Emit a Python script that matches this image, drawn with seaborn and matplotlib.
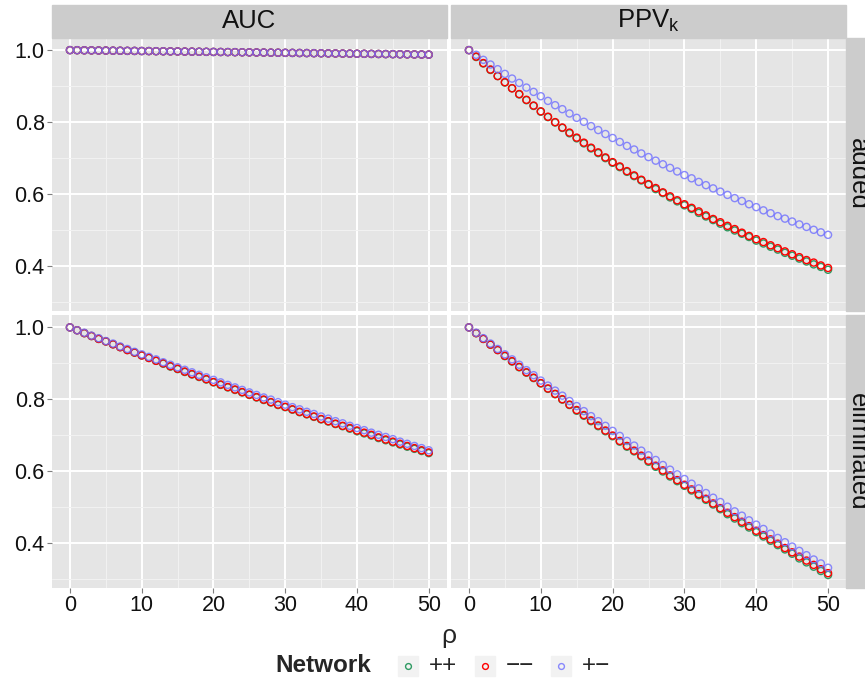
import numpy as np
import pandas as pd
import matplotlib
matplotlib.use("Agg")
import matplotlib.pyplot as plt
from matplotlib.patches import Rectangle
from matplotlib.lines import Line2D
import seaborn as sns

# ---- data -------------------------------------------------------------
rho = list(range(51))

networks = ["++", "\u2212\u2212", "+\u2212"]
metrics = ["AUC", "PPV"]
changes = ["added", "eliminated"]

auc_added_pp = [1.0000, .9998, .9995, .9993, .9990, .9988, .9985, .9983, .9980, .9978,
                .9975, .9973, .9970, .9968, .9965, .9963, .9960, .9958, .9955, .9953,
                .9950, .9948, .9945, .9943, .9940, .9938, .9935, .9933, .9930, .9928,
                .9925, .9923, .9920, .9918, .9915, .9913, .9910, .9908, .9905, .9903,
                .9900, .9898, .9895, .9893, .9890, .9888, .9885, .9883, .9880, .9878, .9875]
auc_added_mm = list(auc_added_pp)
auc_added_pm = list(auc_added_pp)

ppv_added_pp = [1.000, .981, .963, .945, .928, .910, .894, .877, .861, .845,
                .829, .814, .799, .784, .769, .755, .741, .727, .714, .700,
                .687, .675, .662, .650, .638, .626, .614, .603, .591, .580,
                .569, .559, .548, .538, .528, .518, .508, .499, .490, .481,
                .471, .463, .454, .446, .437, .429, .421, .413, .405, .398, .390]
ppv_added_mm = [1.000, .982, .964, .946, .928, .911, .894, .878, .862, .846,
                .830, .815, .800, .785, .771, .757, .743, .729, .716, .702,
                .689, .677, .664, .652, .640, .628, .617, .605, .594, .583,
                .572, .562, .552, .541, .531, .522, .512, .503, .493, .484,
                .475, .467, .458, .450, .441, .433, .425, .417, .410, .402, .395]
ppv_added_pm = [1.000, .987, .973, .960, .947, .934, .921, .909, .896, .884,
                .872, .859, .847, .836, .824, .812, .801, .789, .778, .767,
                .756, .745, .734, .724, .713, .703, .693, .683, .673, .663,
                .653, .644, .634, .625, .616, .607, .598, .589, .581, .572,
                .564, .555, .547, .539, .532, .524, .516, .509, .501, .494, .487]

auc_elim_pp = [1.000, .992, .984, .976, .968, .961, .953, .945, .937, .930,
               .922, .915, .907, .899, .891, .884, .876, .869, .862, .855,
               .847, .840, .833, .826, .819, .812, .805, .798, .791, .784,
               .778, .771, .764, .758, .751, .744, .738, .731, .725, .718,
               .711, .705, .699, .692, .686, .680, .674, .668, .662, .656, .650]
auc_elim_mm = [1.000, .992, .984, .976, .968, .961, .953, .945, .937, .930,
               .922, .915, .907, .900, .892, .885, .877, .870, .863, .856,
               .848, .841, .834, .827, .820, .813, .806, .799, .792, .785,
               .779, .772, .765, .759, .752, .745, .739, .732, .726, .720,
               .713, .707, .701, .694, .688, .682, .676, .670, .664, .658, .652]
auc_elim_pm = [1.000, .992, .985, .977, .970, .962, .955, .947, .940, .932,
               .925, .918, .911, .903, .896, .889, .882, .875, .868, .861,
               .854, .847, .840, .833, .826, .819, .812, .805, .799, .792,
               .785, .778, .772, .765, .759, .752, .746, .739, .733, .726,
               .720, .714, .707, .701, .695, .689, .682, .676, .670, .664, .658]

ppv_elim_pp = [1.000, .984, .968, .952, .937, .920, .905, .889, .874, .859,
               .844, .829, .814, .799, .784, .768, .754, .739, .725, .711,
               .697, .682, .668, .655, .641, .626, .612, .599, .585, .572,
               .559, .546, .533, .520, .507, .494, .480, .468, .455, .443,
               .430, .418, .406, .394, .382, .370, .357, .346, .334, .322, .311]
ppv_elim_mm = [1.000, .984, .968, .952, .937, .921, .906, .890, .875, .860,
               .845, .830, .815, .800, .785, .770, .756, .741, .727, .713,
               .699, .684, .670, .657, .643, .629, .615, .602, .588, .575,
               .562, .549, .536, .523, .510, .497, .484, .472, .459, .447,
               .434, .422, .410, .398, .386, .374, .362, .351, .339, .327, .316]
ppv_elim_pm = [1.000, .985, .970, .955, .940, .925, .911, .896, .881, .867,
               .852, .838, .824, .810, .795, .781, .767, .753, .739, .726,
               .712, .698, .684, .671, .657, .644, .631, .617, .604, .591,
               .578, .565, .552, .539, .526, .514, .501, .488, .476, .463,
               .451, .439, .426, .414, .402, .390, .378, .366, .354, .343, .331]

series = {
    ("added", "AUC"): [auc_added_pp, auc_added_mm, auc_added_pm],
    ("added", "PPV"): [ppv_added_pp, ppv_added_mm, ppv_added_pm],
    ("eliminated", "AUC"): [auc_elim_pp, auc_elim_mm, auc_elim_pm],
    ("eliminated", "PPV"): [ppv_elim_pp, ppv_elim_mm, ppv_elim_pm],
}

rows = []
for (chg, met), vals in series.items():
    for net, v in zip(networks, vals):
        for r, y in zip(rho, v):
            rows.append({"change": chg, "metric": met, "network": net, "rho": r, "value": y})
df = pd.DataFrame(rows)

# ---- style ------------------------------------------------------------
sns.set_theme(style="white")
plt.rcParams["font.family"] = ["Liberation Sans", "DejaVu Sans"]
plt.rcParams["mathtext.fontset"] = "custom"
plt.rcParams["mathtext.rm"] = "Liberation Sans"
plt.rcParams["mathtext.it"] = "Liberation Sans"

colors = {"++": "#2E9A62", "\u2212\u2212": "#FF0000", "+\u2212": "#6E6EFF"}
alphas = {"++": 1.0, "\u2212\u2212": 1.0, "+\u2212": 0.8}

W, H = 865, 682
fig = plt.figure(figsize=(W / 100, H / 100), dpi=100)


def fx(px):
    return px / W


def fy(py):
    return 1 - py / H


col_x = [(52, 446.7), (451, 846)]
row_y = [(37.7, 311), (315, 587.7)]
strip_top = (5, 37.7)
strip_right = (846, 879)

xlim = (-2.5, 52.5)
ylim = (0.2755, 1.0345)

for i, chg in enumerate(changes):
    for j, met in enumerate(metrics):
        x0, x1 = col_x[j]
        y0, y1 = row_y[i]
        ax = fig.add_axes([fx(x0), fy(y1), fx(x1 - x0), (y1 - y0) / H])
        ax.set_facecolor("#E5E5E5")
        for s in ax.spines.values():
            s.set_visible(False)
        ax.set_xlim(*xlim)
        ax.set_ylim(*ylim)
        ax.set_xticks([0, 10, 20, 30, 40, 50])
        ax.set_xticks([5, 15, 25, 35, 45], minor=True)
        ax.set_yticks([0.4, 0.6, 0.8, 1.0])
        ax.set_yticks([0.3, 0.5, 0.7, 0.9], minor=True)
        ax.grid(which="major", color="white", linewidth=1.4)
        ax.grid(which="minor", color="#F2F2F2", linewidth=0.7)
        ax.set_axisbelow(True)
        ax.tick_params(which="major", length=3.8, width=0.8, color="#7F7F7F",
                       labelsize=15.5, labelcolor="#111111", pad=1.5,
                       left=(j == 0), bottom=(i == 1),
                       labelleft=(j == 0), labelbottom=(i == 1))
        ax.tick_params(which="minor", length=0)
        ax.set_yticklabels(["0.4", "0.6", "0.8", "1.0"])

        sub = df[(df["change"] == chg) & (df["metric"] == met)]
        for net in networks:
            d = sub[sub["network"] == net]
            sns.scatterplot(data=d, x="rho", y="value", ax=ax, marker="o",
                            s=26, facecolors="none", edgecolor=colors[net],
                            color=colors[net], linewidth=1.0, alpha=alphas[net],
                            legend=False, zorder=3)
        ax.set_xlabel("")
        ax.set_ylabel("")

# facet strips
strip_col = "#CCCCCC"
for j, met in enumerate(metrics):
    x0, x1 = col_x[j]
    fig.patches.append(Rectangle((fx(x0), fy(strip_top[1])), fx(x1 - x0),
                                 (strip_top[1] - strip_top[0]) / H,
                                 transform=fig.transFigure, color=strip_col, zorder=0))
    label = "AUC" if met == "AUC" else r"PPV$_\mathregular{k}$"
    fig.text(fx((x0 + x1) / 2), fy((strip_top[0] + strip_top[1]) / 2), label,
             ha="center", va="center", fontsize=18.5, color="#111111")

for i, chg in enumerate(changes):
    y0, y1 = row_y[i]
    fig.patches.append(Rectangle((fx(strip_right[0]), fy(y1)),
                                 fx(strip_right[1] - strip_right[0]),
                                 (y1 - y0) / H,
                                 transform=fig.transFigure, color=strip_col, zorder=0))
    fig.text(fx(851), fy((y0 + y1) / 2), chg, rotation=-90, rotation_mode="anchor",
             ha="center", va="baseline", fontsize=18.5, color="#111111")

# axis title
fig.text(fx(449), fy(636), "\u03c1", ha="center", va="center", fontsize=19)

# legend
fig.text(fx(275), fy(666), "Network", ha="left", va="center",
         fontsize=17.5, fontweight="bold")
key_x = [398, 475, 551]
for net, kx in zip(networks, key_x):
    fig.patches.append(Rectangle((fx(kx), fy(676)), fx(20), 20 / H,
                                 transform=fig.transFigure, color="#F2F2F2", zorder=0))
    fig.lines.append(Line2D([fx(kx + 10)], [fy(666)], transform=fig.transFigure,
                            marker="o", markersize=4.2, markerfacecolor="none",
                            markeredgecolor=colors[net], markeredgewidth=1.0,
                            alpha=alphas[net], linestyle="none"))
    fig.text(fx(kx + 31), fy(666), net, ha="left", va="center", fontsize=17.5)

fig.savefig("out.png", dpi=100)
